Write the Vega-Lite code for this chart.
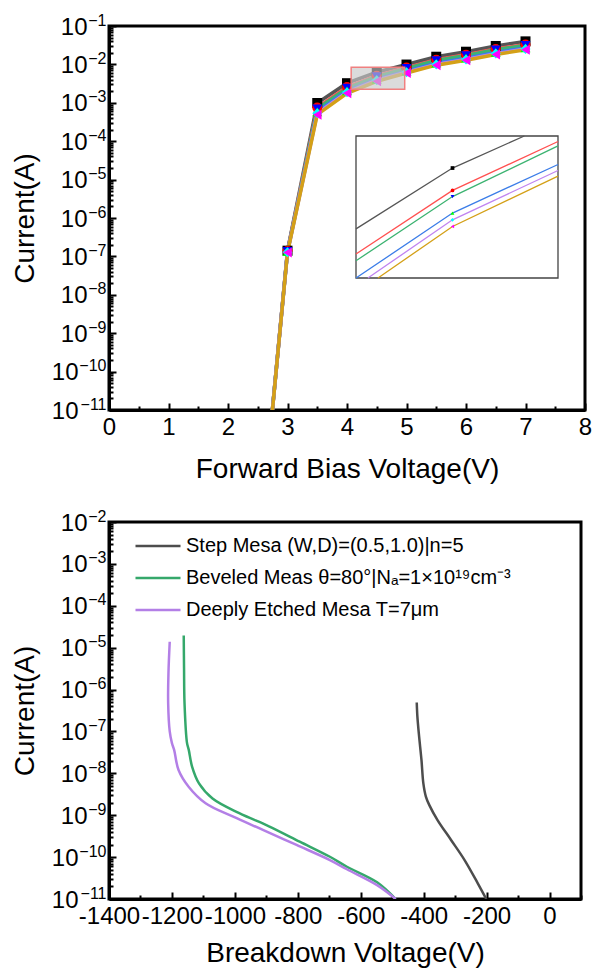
{
  "$schema": "https://vega.github.io/schema/vega-lite/v6.json",
  "padding": {"left": 9, "top": 10, "right": 0, "bottom": 0},
  "spacing": 21,
  "datasets": {
    "fwd": [
      {"s": "s1", "x": 2.5, "y": 1e-15}, {"s": "s1", "x": 3, "y": 1.41e-7}, {"s": "s1", "x": 3.5, "y": 9.89e-4}, {"s": "s1", "x": 4, "y": 3.24e-3}, {"s": "s1", "x": 4.5, "y": 6.24e-3}, {"s": "s1", "x": 5, "y": 9.92e-3}, {"s": "s1", "x": 5.5, "y": 1.585e-2}, {"s": "s1", "x": 6, "y": 2.14e-2}, {"s": "s1", "x": 6.5, "y": 3.02e-2}, {"s": "s1", "x": 7, "y": 3.98e-2},
      {"s": "s2", "x": 2.5, "y": 1e-15}, {"s": "s2", "x": 3, "y": 1.38e-7}, {"s": "s2", "x": 3.5, "y": 7.5e-4}, {"s": "s2", "x": 4, "y": 2.57e-3}, {"s": "s2", "x": 4.5, "y": 5.07e-3}, {"s": "s2", "x": 5, "y": 8.25e-3}, {"s": "s2", "x": 5.5, "y": 1.32e-2}, {"s": "s2", "x": 6, "y": 1.78e-2}, {"s": "s2", "x": 6.5, "y": 2.51e-2}, {"s": "s2", "x": 7, "y": 3.31e-2},
      {"s": "s3", "x": 2.5, "y": 1e-15}, {"s": "s3", "x": 3, "y": 1.35e-7}, {"s": "s3", "x": 3.5, "y": 7.0e-4}, {"s": "s3", "x": 4, "y": 2.40e-3}, {"s": "s3", "x": 4.5, "y": 4.79e-3}, {"s": "s3", "x": 5, "y": 7.88e-3}, {"s": "s3", "x": 5.5, "y": 1.26e-2}, {"s": "s3", "x": 6, "y": 1.70e-2}, {"s": "s3", "x": 6.5, "y": 2.40e-2}, {"s": "s3", "x": 7, "y": 3.16e-2},
      {"s": "s4", "x": 2.5, "y": 1e-15}, {"s": "s4", "x": 3, "y": 1.32e-7}, {"s": "s4", "x": 3.5, "y": 5.82e-4}, {"s": "s4", "x": 4, "y": 2.04e-3}, {"s": "s4", "x": 4.5, "y": 4.11e-3}, {"s": "s4", "x": 5, "y": 6.63e-3}, {"s": "s4", "x": 5.5, "y": 1.07e-2}, {"s": "s4", "x": 6, "y": 1.45e-2}, {"s": "s4", "x": 6.5, "y": 2.04e-2}, {"s": "s4", "x": 7, "y": 2.69e-2},
      {"s": "s5", "x": 2.5, "y": 1e-15}, {"s": "s5", "x": 3, "y": 1.29e-7}, {"s": "s5", "x": 3.5, "y": 5.31e-4}, {"s": "s5", "x": 4, "y": 1.88e-3}, {"s": "s5", "x": 4.5, "y": 3.86e-3}, {"s": "s5", "x": 5, "y": 6.26e-3}, {"s": "s5", "x": 5.5, "y": 1.0e-2}, {"s": "s5", "x": 6, "y": 1.35e-2}, {"s": "s5", "x": 6.5, "y": 1.91e-2}, {"s": "s5", "x": 7, "y": 2.51e-2},
      {"s": "s6", "x": 2.5, "y": 1e-15}, {"s": "s6", "x": 3, "y": 1.26e-7}, {"s": "s6", "x": 3.5, "y": 4.9e-4}, {"s": "s6", "x": 4, "y": 1.76e-3}, {"s": "s6", "x": 4.5, "y": 3.63e-3}, {"s": "s6", "x": 5, "y": 5.98e-3}, {"s": "s6", "x": 5.5, "y": 9.55e-3}, {"s": "s6", "x": 6, "y": 1.29e-2}, {"s": "s6", "x": 6.5, "y": 1.82e-2}, {"s": "s6", "x": 7, "y": 2.40e-2}
    ],
    "inset": [
      {"s": "s1", "x": 4.07, "y": 3.55e-3}, {"s": "s1", "x": 4.5, "y": 6.24e-3}, {"s": "s1", "x": 4.82, "y": 8.4e-3},
      {"s": "s2", "x": 4.07, "y": 2.81e-3}, {"s": "s2", "x": 4.5, "y": 5.07e-3}, {"s": "s2", "x": 4.97, "y": 7.98e-3},
      {"s": "s3", "x": 4.07, "y": 2.64e-3}, {"s": "s3", "x": 4.5, "y": 4.79e-3}, {"s": "s3", "x": 4.97, "y": 7.66e-3},
      {"s": "s4", "x": 4.07, "y": 2.25e-3}, {"s": "s4", "x": 4.5, "y": 4.11e-3}, {"s": "s4", "x": 4.97, "y": 6.45e-3},
      {"s": "s5", "x": 4.123, "y": 2.25e-3}, {"s": "s5", "x": 4.5, "y": 3.86e-3}, {"s": "s5", "x": 4.97, "y": 6.1e-3},
      {"s": "s6", "x": 4.168, "y": 2.25e-3}, {"s": "s6", "x": 4.5, "y": 3.63e-3}, {"s": "s6", "x": 4.97, "y": 5.79e-3}
    ],
    "zoombox": [
      {"x": 4.07, "x2": 4.97, "y": 0.00225, "y2": 0.0084}
    ],
    "rev": [
      {"d": "Step Mesa (W,D)=(0.5,1.0)|n=5", "k": 1, "v": -422, "c": 4.9e-7},
      {"d": "Step Mesa (W,D)=(0.5,1.0)|n=5", "k": 2, "v": -420, "c": 2.29e-7},
      {"d": "Step Mesa (W,D)=(0.5,1.0)|n=5", "k": 3, "v": -414.5, "c": 7.59e-8},
      {"d": "Step Mesa (W,D)=(0.5,1.0)|n=5", "k": 4, "v": -407, "c": 2.09e-8},
      {"d": "Step Mesa (W,D)=(0.5,1.0)|n=5", "k": 5, "v": -401, "c": 5.75e-9},
      {"d": "Step Mesa (W,D)=(0.5,1.0)|n=5", "k": 6, "v": -393, "c": 2.79e-9},
      {"d": "Step Mesa (W,D)=(0.5,1.0)|n=5", "k": 7, "v": -382, "c": 1.74e-9},
      {"d": "Step Mesa (W,D)=(0.5,1.0)|n=5", "k": 8, "v": -356, "c": 7.67e-10},
      {"d": "Step Mesa (W,D)=(0.5,1.0)|n=5", "k": 9, "v": -313, "c": 2.57e-10},
      {"d": "Step Mesa (W,D)=(0.5,1.0)|n=5", "k": 10, "v": -270, "c": 8.51e-11},
      {"d": "Step Mesa (W,D)=(0.5,1.0)|n=5", "k": 11, "v": -227.6, "c": 2.34e-11},
      {"d": "Step Mesa (W,D)=(0.5,1.0)|n=5", "k": 12, "v": -201, "c": 1e-11},
      {"d": "Beveled Meas θ=80°|Nₐ=1×10¹⁹cm⁻³", "k": 1, "v": -1162.5, "c": 1.95e-5},
      {"d": "Beveled Meas θ=80°|Nₐ=1×10¹⁹cm⁻³", "k": 2, "v": -1161.5, "c": 3.16e-6},
      {"d": "Beveled Meas θ=80°|Nₐ=1×10¹⁹cm⁻³", "k": 3, "v": -1160, "c": 4.79e-7},
      {"d": "Beveled Meas θ=80°|Nₐ=1×10¹⁹cm⁻³", "k": 4, "v": -1152, "c": 5.25e-8},
      {"d": "Beveled Meas θ=80°|Nₐ=1×10¹⁹cm⁻³", "k": 5, "v": -1146.5, "c": 3.63e-8},
      {"d": "Beveled Meas θ=80°|Nₐ=1×10¹⁹cm⁻³", "k": 6, "v": -1136, "c": 1.45e-8},
      {"d": "Beveled Meas θ=80°|Nₐ=1×10¹⁹cm⁻³", "k": 7, "v": -1114, "c": 5.75e-9},
      {"d": "Beveled Meas θ=80°|Nₐ=1×10¹⁹cm⁻³", "k": 8, "v": -1071, "c": 2.51e-9},
      {"d": "Beveled Meas θ=80°|Nₐ=1×10¹⁹cm⁻³", "k": 9, "v": -986, "c": 1.12e-9},
      {"d": "Beveled Meas θ=80°|Nₐ=1×10¹⁹cm⁻³", "k": 10, "v": -890, "c": 5.37e-10},
      {"d": "Beveled Meas θ=80°|Nₐ=1×10¹⁹cm⁻³", "k": 11, "v": -794, "c": 2.34e-10},
      {"d": "Beveled Meas θ=80°|Nₐ=1×10¹⁹cm⁻³", "k": 12, "v": -698, "c": 1.02e-10},
      {"d": "Beveled Meas θ=80°|Nₐ=1×10¹⁹cm⁻³", "k": 13, "v": -644, "c": 5.89e-11},
      {"d": "Beveled Meas θ=80°|Nₐ=1×10¹⁹cm⁻³", "k": 14, "v": -548, "c": 2.51e-11},
      {"d": "Beveled Meas θ=80°|Nₐ=1×10¹⁹cm⁻³", "k": 15, "v": -489, "c": 1e-11},
      {"d": "Deeply Etched Mesa T=7μm", "k": 1, "v": -1207, "c": 1.38e-5},
      {"d": "Deeply Etched Mesa T=7μm", "k": 2, "v": -1211, "c": 2.51e-6},
      {"d": "Deeply Etched Mesa T=7μm", "k": 3, "v": -1212, "c": 4.79e-7},
      {"d": "Deeply Etched Mesa T=7μm", "k": 4, "v": -1207, "c": 1e-7},
      {"d": "Deeply Etched Mesa T=7μm", "k": 5, "v": -1200, "c": 5.25e-8},
      {"d": "Deeply Etched Mesa T=7μm", "k": 6, "v": -1193, "c": 3.63e-8},
      {"d": "Deeply Etched Mesa T=7μm", "k": 7, "v": -1179, "c": 1.2e-8},
      {"d": "Deeply Etched Mesa T=7μm", "k": 8, "v": -1147, "c": 4.79e-9},
      {"d": "Deeply Etched Mesa T=7μm", "k": 9, "v": -1093, "c": 1.93e-9},
      {"d": "Deeply Etched Mesa T=7μm", "k": 10, "v": -1007, "c": 9.33e-10},
      {"d": "Deeply Etched Mesa T=7μm", "k": 11, "v": -911, "c": 4.47e-10},
      {"d": "Deeply Etched Mesa T=7μm", "k": 12, "v": -804, "c": 1.95e-10},
      {"d": "Deeply Etched Mesa T=7μm", "k": 13, "v": -698, "c": 8.51e-11},
      {"d": "Deeply Etched Mesa T=7μm", "k": 14, "v": -644, "c": 5.13e-11},
      {"d": "Deeply Etched Mesa T=7μm", "k": 15, "v": -548, "c": 2.14e-11},
      {"d": "Deeply Etched Mesa T=7μm", "k": 16, "v": -489, "c": 1e-11}
    ]
  },
  "vconcat": [
    {
      "width": 476,
      "height": 384,
      "layer": [
        {
          "encoding": {
            "x": {
              "field": "x", "type": "quantitative",
              "scale": {"domain": [0, 8], "nice": false, "zero": false},
              "axis": {
                "title": "Forward Bias Voltage(V)",
                "tickCount": 16,
                "labelExpr": "datum.value % 1 == 0 ? '' + datum.value : ''",
                "tickSize": {"condition": {"test": "datum.value % 1 == 0", "value": -7}, "value": -4},
                "labelPadding": 12.5,
                "titlePadding": 13
              }
            }
          },
          "layer": [
            {
              "data": {"name": "fwd"},
              "mark": {"type": "line", "strokeWidth": 3.5, "clip": true},
              "encoding": {
                "y": {
                  "field": "y", "type": "quantitative",
                  "scale": {"type": "log", "domain": [1e-11, 0.1], "nice": false},
                  "axis": {
                    "orient": "left",
                    "title": "Current(A)",
                    "tickCount": 100,
                    "labelExpr": "abs(log(datum.value)/LN10 - round(log(datum.value)/LN10)) < 0.001 ? '10' : ''",
                    "tickSize": {"condition": {"test": "abs(log(datum.value)/LN10 - round(log(datum.value)/LN10)) < 0.001", "value": -7}, "value": -4},
                    "labelPadding": {"condition": {"test": "abs(round(log(datum.value)/LN10)) >= 10", "value": 38}, "value": 29},
                    "labelOffset": 1,
                    "titlePadding": 12
                  }
                },
                "stroke": {
                  "field": "s", "type": "nominal", "legend": null,
                  "scale": {"domain": ["s1", "s2", "s3", "s4", "s5", "s6"], "range": ["#555555", "#ff5050", "#3cb371", "#3b7de8", "#c084f0", "#d4a017"]}
                }
              }
            },
            {
              "data": {"name": "fwd"},
              "mark": {"type": "point", "filled": true, "size": 100, "opacity": 1, "clip": true},
              "encoding": {
                "y": {
                  "field": "y", "type": "quantitative",
                  "scale": {"type": "log", "domain": [1e-11, 0.1], "nice": false},
                  "axis": {
                    "orient": "left",
                    "title": null,
                    "tickCount": 100,
                    "ticks": false,
                    "domain": false,
                    "labelFontSize": 16,
                    "labelExpr": "abs(log(datum.value)/LN10 - round(log(datum.value)/LN10)) < 0.001 ? '−' + abs(round(log(datum.value)/LN10)) : ''",
                    "labelPadding": 3,
                    "labelOffset": -6
                  }
                },
                "fill": {
                  "field": "s", "type": "nominal", "legend": null,
                  "scale": {"domain": ["s1", "s2", "s3", "s4", "s5", "s6"], "range": ["#000000", "#ff0000", "#0000ff", "#00ff00", "#00ffff", "#ff00ff"]}
                },
                "shape": {
                  "field": "s", "type": "nominal", "legend": null,
                  "scale": {"domain": ["s1", "s2", "s3", "s4", "s5", "s6"], "range": ["square", "circle", "triangle-down", "triangle-up", "diamond", "triangle-left"]}
                }
              }
            },
            {
              "data": {"name": "zoombox"},
              "mark": {"type": "rect", "fill": "#c8c8c8", "fillOpacity": 0.65, "stroke": "#f08080", "strokeWidth": 1.5},
              "encoding": {
                "y": {"field": "y", "type": "quantitative", "axis": null, "scale": {"type": "log", "domain": [1e-11, 0.1], "nice": false}},
                "x2": {"field": "x2"},
                "y2": {"field": "y2"}
              }
            }
          ],
          "resolve": {"axis": {"y": "independent"}}
        },
        {
          "encoding": {
            "x": {"field": "x", "type": "quantitative", "axis": null, "scale": {"domain": [4.07, 4.97], "nice": false, "zero": false, "range": [247, 449]}},
            "y": {"field": "y", "type": "quantitative", "axis": null, "scale": {"type": "log", "domain": [0.00225, 0.0084], "nice": false, "range": [252, 110]}}
          },
          "layer": [
            {
              "data": {"name": "zoombox"},
              "mark": {"type": "rect", "fill": "white", "stroke": "#444444", "strokeWidth": 1.3},
              "encoding": {"x2": {"field": "x2"}, "y2": {"field": "y2"}}
            },
            {
              "data": {"name": "inset"},
              "mark": {"type": "line", "strokeWidth": 1.3},
              "encoding": {
                "stroke": {
                  "field": "s", "type": "nominal", "legend": null,
                  "scale": {"domain": ["s1", "s2", "s3", "s4", "s5", "s6"], "range": ["#555555", "#ff5050", "#3cb371", "#3b7de8", "#c084f0", "#d4a017"]}
                }
              }
            },
            {
              "data": {"name": "inset"},
              "transform": [{"filter": "datum.x == 4.5"}],
              "mark": {"type": "point", "filled": true, "size": 14, "opacity": 1},
              "encoding": {
                "fill": {
                  "field": "s", "type": "nominal", "legend": null,
                  "scale": {"domain": ["s1", "s2", "s3", "s4", "s5", "s6"], "range": ["#000000", "#ff0000", "#0000ff", "#00ff00", "#00ffff", "#ff00ff"]}
                },
                "shape": {
                  "field": "s", "type": "nominal", "legend": null,
                  "scale": {"domain": ["s1", "s2", "s3", "s4", "s5", "s6"], "range": ["square", "circle", "triangle-down", "triangle-up", "diamond", "triangle-left"]}
                }
              }
            }
          ]
        }
      ],
      "resolve": {"scale": {"x": "independent", "y": "independent", "stroke": "independent", "fill": "independent", "shape": "independent"}}
    },
    {
      "width": 472,
      "height": 377,
      "data": {"name": "rev"},
      "encoding": {
        "x": {
          "field": "v", "type": "quantitative",
          "scale": {"domain": [-1400, 100], "nice": false, "zero": false},
          "axis": {
            "title": "Breakdown Voltage(V)",
            "tickCount": 15,
            "labelExpr": "datum.value % 200 == 0 ? '' + datum.value : ''",
            "tickSize": {"condition": {"test": "datum.value % 200 == 0", "value": -7}, "value": -4},
            "labelPadding": 12.5,
            "titlePadding": 8
          }
        }
      },
      "layer": [
        {
          "mark": {"type": "line", "strokeWidth": 2.5, "clip": true, "interpolate": "catmull-rom"},
          "encoding": {
            "y": {
              "field": "c", "type": "quantitative",
              "scale": {"type": "log", "domain": [1e-11, 0.01], "nice": false},
              "axis": {
                "orient": "left",
                "title": "Current(A)",
                "tickCount": 100,
                "labelExpr": "abs(log(datum.value)/LN10 - round(log(datum.value)/LN10)) < 0.001 ? '10' : ''",
                "tickSize": {"condition": {"test": "abs(log(datum.value)/LN10 - round(log(datum.value)/LN10)) < 0.001", "value": -7}, "value": -4},
                "labelPadding": {"condition": {"test": "abs(round(log(datum.value)/LN10)) >= 10", "value": 38}, "value": 29},
                "labelOffset": 1,
                "titlePadding": 12
              }
            },
            "stroke": {
              "field": "d", "type": "nominal",
              "scale": {"domain": ["Step Mesa (W,D)=(0.5,1.0)|n=5", "Beveled Meas θ=80°|Nₐ=1×10¹⁹cm⁻³", "Deeply Etched Mesa T=7μm"], "range": ["#4d4d4d", "#35a86b", "#b37fe6"]},
              "legend": {
                "title": null,
                "orient": "top-left",
                "offset": 13,
                "padding": 0,
                "symbolType": "stroke",
                "symbolSize": 2025,
                "symbolStrokeWidth": 2.5,
                "symbolOffset": 12,
                "labelFontSize": 20,
                "labelFont": "Liberation Sans",
                "labelColor": "black",
                "labelOffset": 4,
                "labelLimit": 0,
                "clipHeight": 22,
                "rowPadding": 10
              }
            },
            "order": {"field": "k", "type": "quantitative"}
          }
        },
        {
          "mark": {"type": "point", "opacity": 0},
          "encoding": {
            "y": {
              "field": "c", "type": "quantitative",
              "scale": {"type": "log", "domain": [1e-11, 0.01], "nice": false},
              "axis": {
                "orient": "left",
                "title": null,
                "tickCount": 100,
                "ticks": false,
                "domain": false,
                "labelFontSize": 16,
                "labelExpr": "abs(log(datum.value)/LN10 - round(log(datum.value)/LN10)) < 0.001 ? '−' + abs(round(log(datum.value)/LN10)) : ''",
                "labelPadding": 3,
                "labelOffset": -6
              }
            }
          }
        }
      ],
      "resolve": {"axis": {"y": "independent"}}
    }
  ],
  "resolve": {"scale": {"stroke": "independent", "fill": "independent", "shape": "independent"}, "legend": {"stroke": "independent"}},
  "config": {
    "font": "Liberation Sans",
    "view": {"stroke": "black", "strokeWidth": 3},
    "axis": {
      "grid": false,
      "domainColor": "black",
      "domainWidth": 3,
      "tickColor": "black",
      "tickWidth": 2,
      "labelFont": "Liberation Sans",
      "labelFontSize": 24,
      "labelColor": "black",
      "labelFlush": false,
      "labelOverlap": false,
      "labelBound": false,
      "titleFont": "Liberation Sans",
      "titleFontSize": 28,
      "titleFontWeight": "normal",
      "titleColor": "black"
    }
  }
}
